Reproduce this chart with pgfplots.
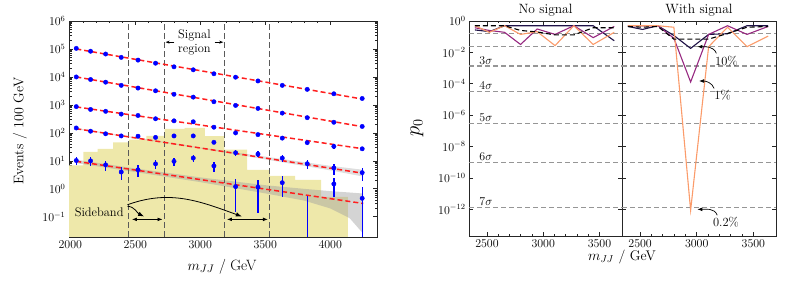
\documentclass[border=0pt]{standalone}
\usepackage{pgfplots}
\pgfplotsset{compat=1.18}
\usepackage{pgfplotstable}
\usetikzlibrary{arrows.meta}

\definecolor{hist}{RGB}{238,232,170}
\definecolor{navy}{RGB}{30,17,70}
\definecolor{magp}{RGB}{150,40,128}
\definecolor{orng}{RGB}{251,155,106}
\definecolor{fitred}{RGB}{255,30,30}
\definecolor{vgray}{RGB}{90,90,90}
\definecolor{sgray}{RGB}{150,150,150}
\definecolor{bandgray}{RGB}{160,160,160}

\pgfplotstableread{
x s1 s2 s3 s4
2046 105000 10000 870 150
2156 83000 8100 690 115
2272 66000 6500 590 93
2392 50000 5000 470 78
2521 40000 4000 420 76
2656 31000 3200 320 69
2798 23000 2400 270 78
2946 18000 1900 250 78
3105 13000 1300 160 46
3272 9800 960 100 19.5
3444 7200 750 87 17.5
3631 5000 510 65 12.6
3823 3600 350 45 7.9
4028 2500 240 33 5.6
4246 1700 170 27 3.8
}\bgdata

\pgfplotstableread{
x y lo hi
2046 10.3 7.1 13.5
2156 10 6.8 13.2
2272 7.2 4.5 9.9
2392 4.0 2.0 6.0
2521 4.8 2.6 7.0
2656 7.8 5.0 10.6
2798 9.6 6.5 12.7
2946 12.6 9.1 16.1
3105 6.6 4.0 9.2
3272 1.2 0.15 2.2
3444 1.15 0.14 2.15
3631 1.66 0.5 2.8
3823 0.001 0.001 0.55
4028 1.5 0.5 2.5
4246 0.46 0.001 1.15
}\lowdata

\pgfplotstableread{
x navy magp orng dash
2392 0.27 0.37 0.5 0.5
2521 0.21 0.25 0.19 0.5
2656 0.5 0.19 0.5 0.5
2798 0.5 0.032 0.14 0.25
2946 0.5 0.31 0.21 0.2
3105 0.5 0.14 0.027 0.13
3272 0.5 0.5 0.5 0.13
3444 0.5 0.087 0.032 0.37
3631 0.055 0.45 0.19 0.37
}\nosig

\pgfplotstableread{
x navy magp orng dash
2392 0.45 0.5 0.5 0.45
2521 0.29 0.5 0.5 0.4
2656 0.5 0.5 0.5 0.45
2798 0.12 0.08 0.4 0.07
2946 0.018 1.3e-4 8.7e-13 0.07
3105 0.14 0.14 0.023 0.07
3272 0.155 0.5 0.4 0.16
3444 0.5 0.14 0.023 0.4
3631 0.5 0.45 0.11 0.45
}\withsig

\pgfplotsset{
  every axis/.append style={
    scale only axis,
    axis line style={line width=0.8bp, black!85},
    every tick/.style={line width=0.7bp, black!85},
    major tick length=4bp, minor tick length=2.5bp,
    tick label style={font=\fontsize{11.5}{13}\selectfont},
    xticklabel style={/pgf/number format/1000 sep={}},
  },
  every axis title/.style={at={(0.5,1)}, anchor=south, inner sep=0bp, yshift=4.3bp,
    font=\fontsize{13.5}{15}\selectfont},
  sigline/.style={sgray, line width=1.1bp, dash pattern=on 5bp off 3bp, forget plot},
  pline/.style={line width=1.1bp, forget plot},
}

\begin{document}
\begin{tikzpicture}
\useasboundingbox (0,0) rectangle (788bp,284bp);

% ---------------- left panel ----------------
\begin{axis}[
  at={(69bp,47bp)}, anchor=south west,
  width=308bp, height=216bp,
  xmin=1990, xmax=4360, ymode=log, ymin=0.019, ymax=1e6,
  xtick={2000,2500,3000,3500,4000}, minor x tick num=4,
  ytick={0.1,1,10,100,1000,10000,100000,1000000},
  clip=true,
]
% signal histogram
\addplot[fill=hist, draw=none] coordinates {
 (1990,0.001) (1990,6.9) (2100,6.9) (2100,21) (2210,21) (2210,27) (2330,27)
 (2330,46) (2450,46) (2450,58) (2585,58) (2585,78) (2725,78) (2725,140)
 (2880,140) (2880,150) (3035,150) (3035,76) (3185,76) (3185,25) (3360,25)
 (3360,4.8) (3535,4.8) (3535,2.9) (3730,2.9) (3730,2.1) (3930,2.1)
 (3930,0.52) (4135,0.52) (4135,0.001)} -- cycle;
% uncertainty bands
\addplot[fill=bandgray, draw=none, fill opacity=0.45] coordinates {
 (2046,10.96) (2500,5.37) (3000,2.57) (3500,1.35) (3800,1.0) (4000,0.83) (4150,0.74) (4254,0.68)
 (4254,0.025) (4150,0.089) (4000,0.2) (3800,0.38) (3500,0.69) (3000,1.74) (2500,3.98) (2046,8.3)} -- cycle;
\addplot[fill=bandgray, draw=none, fill opacity=0.35] coordinates {
 (2046,147.9) (3000,30.4) (3500,14.2) (4000,6.65) (4254,4.79)
 (4254,2.75) (4000,4.6) (3500,11.3) (3000,27.7) (2046,134.9)} -- cycle;
% region boundaries
\foreach \xv in {2450,2725,3185,3535}{
  \edef\temp{\noexpand\addplot[vgray, line width=1bp, dash pattern=on 6bp off 3bp] coordinates {(\xv,0.019) (\xv,1e6)};}
  \temp
}
% fits
\addplot[fitred, line width=1.5bp, dash pattern=on 5bp off 3bp] coordinates {(2046,1.0e5) (4254,1.6e3)};
\addplot[fitred, line width=1.5bp, dash pattern=on 5bp off 3bp] coordinates {(2046,1.0e4) (4254,165)};
\addplot[fitred, line width=1.5bp, dash pattern=on 5bp off 3bp] coordinates {(2046,850) (4254,27)};
\addplot[fitred, line width=1.5bp, dash pattern=on 5bp off 3bp] coordinates {(2046,141) (4254,3.6)};
\addplot[fitred, line width=1.5bp, dash pattern=on 5bp off 3bp] coordinates {(2046,9.6) (4254,0.30)};
% data
\pgfplotsset{datastyle/.style={blue, only marks, mark=*, mark size=2.2bp,
  error bars/.cd, y dir=both, y explicit, error mark=none,
  error bar style={line width=1.3bp, blue}}}
\addplot[datastyle] table[x=x, y=s1, y error expr={sqrt(\thisrow{s1})}] {\bgdata};
\addplot[datastyle] table[x=x, y=s2, y error expr={sqrt(\thisrow{s2})}] {\bgdata};
\addplot[datastyle] table[x=x, y=s3, y error expr={sqrt(\thisrow{s3})}] {\bgdata};
\addplot[datastyle] table[x=x, y=s4, y error expr={sqrt(\thisrow{s4})}] {\bgdata};
\addplot[datastyle] table[x=x, y=y, y error plus expr={\thisrow{hi}-\thisrow{y}}, y error minus expr={\thisrow{y}-\thisrow{lo}}] {\lowdata};
% annotations
\node[font=\fontsize{12.5}{14}\selectfont, align=center, inner sep=0pt] at (axis cs:2955,1.66e5) {Signal\\region};
\draw[-{Stealth[length=4bp]}, line width=0.8bp] (axis cs:2800,1.75e5) -- (axis cs:2733,1.75e5);
\draw[-{Stealth[length=4bp]}, line width=0.8bp] (axis cs:3110,1.75e5) -- (axis cs:3177,1.75e5);
\node[font=\fontsize{12.5}{14}\selectfont, inner sep=0pt] at (axis cs:2222,0.15) {Sideband};
\draw[{Latex[length=5bp]}-{Latex[length=5bp]}, line width=0.8bp] (axis cs:2474,0.081) -- (axis cs:2710,0.081);
\draw[{Latex[length=5bp]}-{Latex[length=5bp]}, line width=0.8bp] (axis cs:3205,0.081) -- (axis cs:3521,0.081);
\draw[-{Latex[length=6bp]}, line width=0.8bp] (axis cs:2440,0.24) to[out=-5, in=155] (axis cs:2568,0.103);
\draw[-{Latex[length=6bp]}, line width=0.8bp] (axis cs:2440,0.27) to[out=20, in=160] (axis cs:3320,0.103);
\end{axis}

% ---------------- right panels ----------------
\begin{axis}[
  at={(469bp,48bp)}, anchor=south west,
  width=153bp, height=215bp,
  xmin=2340, xmax=3700, ymode=log, ymin=2e-14, ymax=1,
  xtick={2500,3000,3500}, minor x tick num=4,
  ytick={1,1e-2,1e-4,1e-6,1e-8,1e-10,1e-12},
  title={No signal},
]
\foreach \pv in {0.1587,0.02275,1.35e-3,3.167e-5,2.867e-7,9.866e-10,1.28e-12}{
  \edef\temp{\noexpand\addplot[sigline] coordinates {(2340,\pv) (3700,\pv)};}
  \temp
}
\addplot[pline, navy] table[x=x,y=navy] {\nosig};
\addplot[pline, magp] table[x=x,y=magp] {\nosig};
\addplot[pline, orng] table[x=x,y=orng] {\nosig};
\addplot[pline, black, dash pattern=on 5bp off 3bp] table[x=x,y=dash] {\nosig};
\node[font=\fontsize{12.5}{14}\selectfont, anchor=south, inner sep=1.5bp] at (axis cs:2490,1.35e-3) {$3\sigma$};
\node[font=\fontsize{12.5}{14}\selectfont, anchor=south, inner sep=1.5bp] at (axis cs:2490,3.167e-5) {$4\sigma$};
\node[font=\fontsize{12.5}{14}\selectfont, anchor=south, inner sep=1.5bp] at (axis cs:2490,2.867e-7) {$5\sigma$};
\node[font=\fontsize{12.5}{14}\selectfont, anchor=south, inner sep=1.5bp] at (axis cs:2490,9.866e-10) {$6\sigma$};
\node[font=\fontsize{12.5}{14}\selectfont, anchor=south, inner sep=1.5bp] at (axis cs:2490,1.28e-12) {$7\sigma$};
\end{axis}

\begin{axis}[
  at={(622bp,48bp)}, anchor=south west,
  width=154bp, height=215bp,
  xmin=2340, xmax=3700, ymode=log, ymin=2e-14, ymax=1,
  xtick={2500,3000,3500}, minor x tick num=4,
  ytick={1,1e-2,1e-4,1e-6,1e-8,1e-10,1e-12},
  yticklabels={},
  title={With signal},
]
\foreach \pv in {0.1587,0.02275,1.35e-3,3.167e-5,2.867e-7,9.866e-10,1.28e-12}{
  \edef\temp{\noexpand\addplot[sigline] coordinates {(2340,\pv) (3700,\pv)};}
  \temp
}
\addplot[pline, navy] table[x=x,y=navy] {\withsig};
\addplot[pline, magp] table[x=x,y=magp] {\withsig};
\addplot[pline, orng] table[x=x,y=orng] {\withsig};
\addplot[pline, black, dash pattern=on 5bp off 3bp] table[x=x,y=dash] {\withsig};
\node[font=\fontsize{12.5}{14}\selectfont] at (axis cs:3262,2.9e-3) {10\%};
\node[font=\fontsize{12.5}{14}\selectfont] at (axis cs:3228,1.9e-5) {1\%};
\node[font=\fontsize{12.5}{14}\selectfont] at (axis cs:3258,1.6e-13) {0.2\%};
\draw[-{Latex[length=5bp]}, line width=0.7bp] (axis cs:3173,8.7e-3) to[out=110, in=0] (axis cs:3005,0.023);
\draw[-{Latex[length=5bp]}, line width=0.7bp] (axis cs:3154,5e-5) to[out=110, in=0] (axis cs:3020,1.5e-4);
\draw[-{Latex[length=5bp]}, line width=0.7bp] (axis cs:3181,4.2e-13) to[out=110, in=0] (axis cs:3005,1e-12);
\end{axis}

% axis labels
\node[font=\fontsize{15}{17}\selectfont] at (222bp,17.3bp) {$m_{JJ}$ / GeV};
\node[font=\fontsize{14}{16}\selectfont, rotate=90] at (20bp,153bp) {Events / 100 GeV};
\node[font=\fontsize{14}{16}\selectfont] at (622bp,27.3bp) {$m_{JJ}$ / GeV};
\node[font=\fontsize{20}{22}\selectfont, rotate=90] at (417bp,156bp) {$p_0$};
\end{tikzpicture}
\end{document}
